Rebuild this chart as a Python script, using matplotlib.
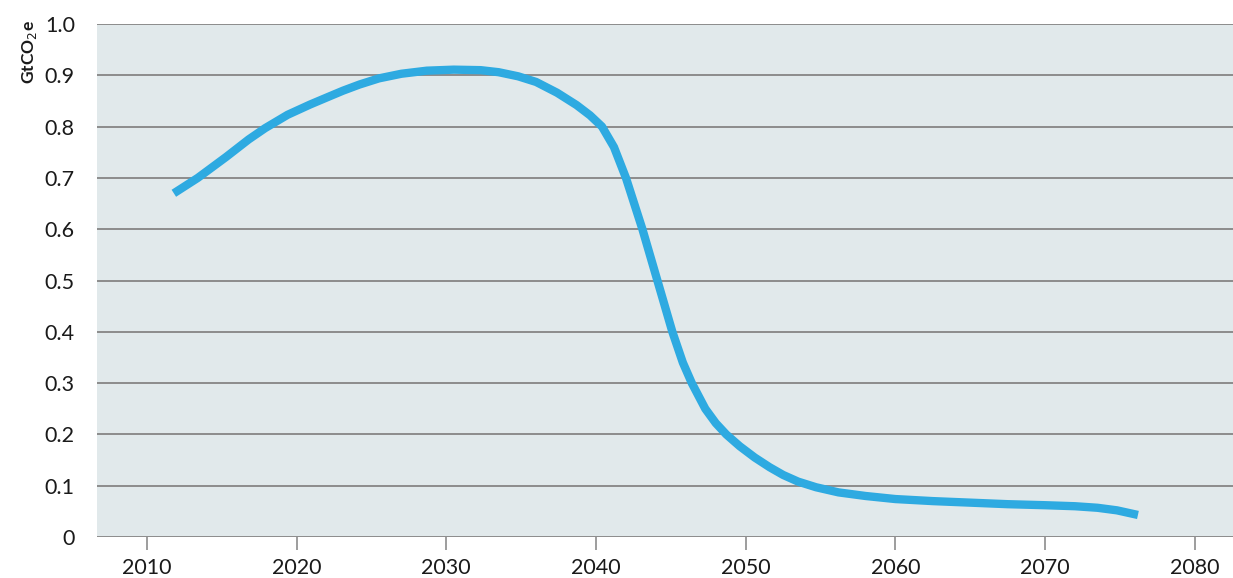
import matplotlib
matplotlib.use("Agg")
import matplotlib.pyplot as plt

# values
YEARS = [2011.8, 2013.4, 2015.3, 2016.8, 2017.9, 2019.4, 2020.9, 2022.2, 2023.1,
         2024.2, 2025.5, 2027, 2028.7, 2030.5, 2032.3, 2033.5, 2034.8, 2036,
         2037.4, 2038.7, 2039.6, 2040.4, 2041.2, 2042, 2043.1, 2044.1, 2045.1,
         2045.8, 2046.4, 2047.3, 2048, 2048.7, 2049.6, 2050.6, 2051.6, 2052.5,
         2053.5, 2054.7, 2056.2, 2058, 2060, 2062.5, 2065, 2067.5, 2070, 2072,
         2073.5, 2074.8, 2076.2]
EMISSIONS = [0.67, 0.70, 0.741, 0.775, 0.797, 0.823, 0.843, 0.859, 0.870,
             0.882, 0.894, 0.903, 0.909, 0.911, 0.910, 0.906, 0.898, 0.887,
             0.866, 0.842, 0.822, 0.80, 0.76, 0.70, 0.60, 0.50, 0.40,
             0.34, 0.30, 0.25, 0.222, 0.20, 0.177, 0.155, 0.136, 0.121,
             0.108, 0.097, 0.087, 0.080, 0.074, 0.070, 0.067, 0.064, 0.062, 0.060,
             0.057, 0.052, 0.043]
X_TICKS = [2010, 2020, 2030, 2040, 2050, 2060, 2070, 2080]
Y_TICKS = [0, 0.1, 0.2, 0.3, 0.4, 0.5, 0.6, 0.7, 0.8, 0.9, 1.0]
Y_LABELS = ["0", "0.1", "0.2", "0.3", "0.4", "0.5", "0.6", "0.7", "0.8", "0.9", "1.0"]

plt.rcParams["font.family"] = ["Lato", "DejaVu Sans"]

fig = plt.figure(figsize=(12.33, 5.78), dpi=100)
ax = fig.add_axes([0.0787, 0.0709, 0.9213, 0.8876])
ax.set_facecolor("#e1e9eb")

for y in Y_TICKS:
    ax.axhline(y, color="#8c8c8c", linewidth=1.4, zorder=1)

ax.plot(YEARS, EMISSIONS, color="#2eaae1", linewidth=6, solid_capstyle="butt",
        solid_joinstyle="round", zorder=3)

ax.set_xlim(2006.67, 2082.55)
ax.set_ylim(0, 1.0)
ax.set_xticks(X_TICKS)
ax.set_yticks(Y_TICKS)
ax.set_yticklabels(Y_LABELS)
ax.tick_params(axis="x", length=9, width=1.2, color="#8c8c8c", pad=6, labelsize=15.5,
               labelcolor="#1a1a1a")
ax.tick_params(axis="y", length=0, pad=16, labelsize=15.5, labelcolor="#1a1a1a")
for s in ax.spines.values():
    s.set_visible(False)

fig.text(0.024, 0.965, "GtCO$_2$e", rotation=90, ha="center", va="top",
         fontsize=12.5, fontweight="bold", color="#1a1a1a")

fig.savefig("out.png", dpi=100)
plt.close(fig)
